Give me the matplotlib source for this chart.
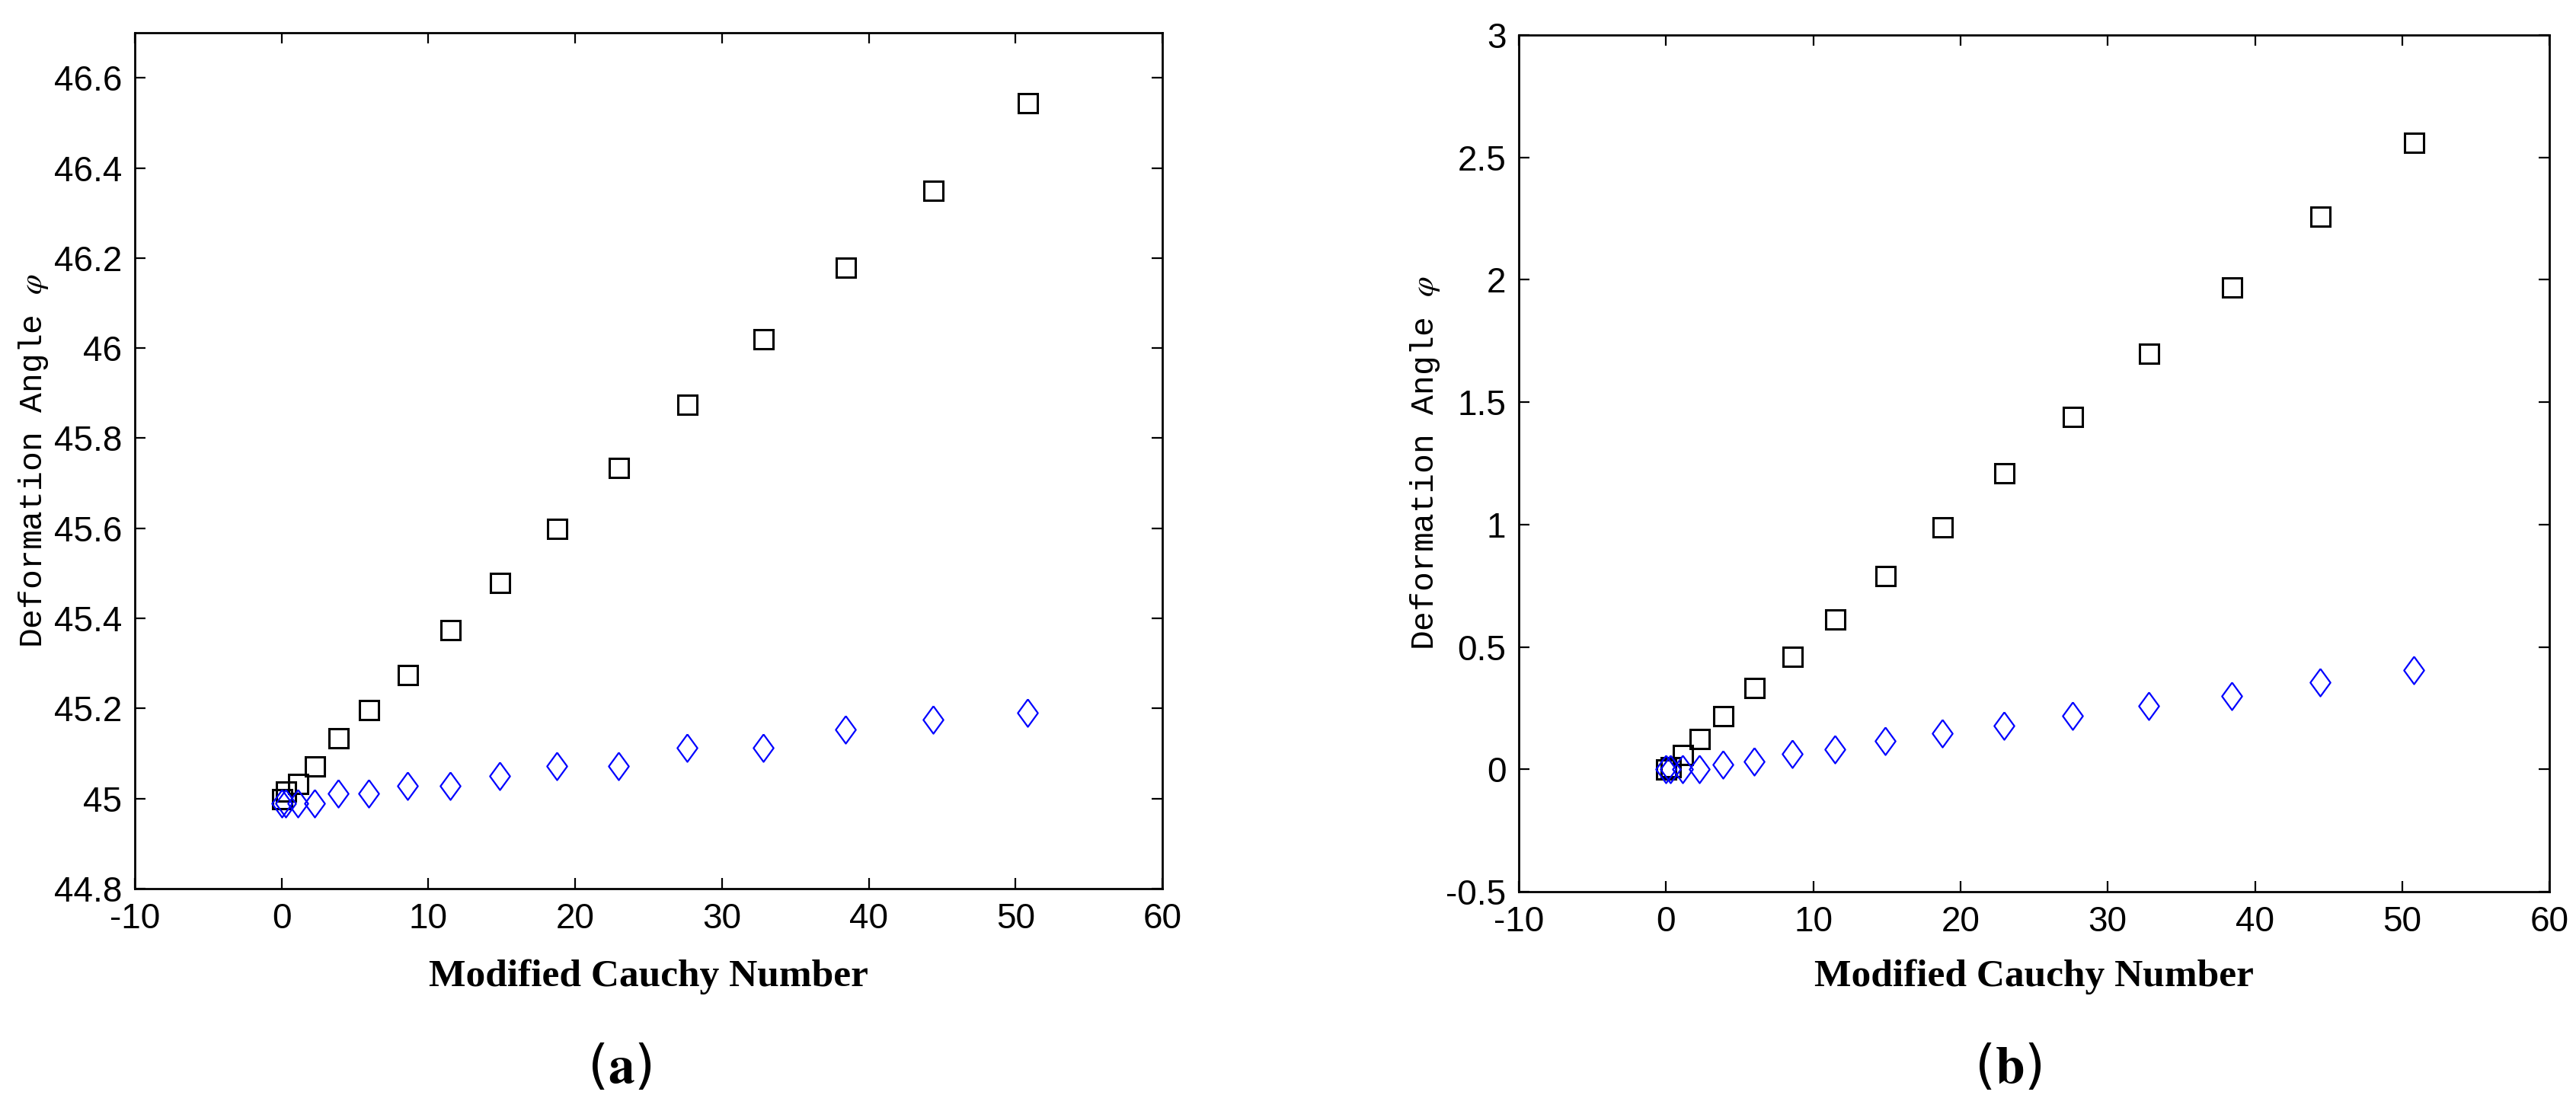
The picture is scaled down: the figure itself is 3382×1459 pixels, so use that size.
import matplotlib
matplotlib.use("Agg")
import matplotlib.pyplot as plt
from matplotlib.ticker import FormatStrFormatter

# values
cauchy = [0.0, 0.3, 1.1, 2.25, 3.88, 5.96, 8.56, 11.47, 14.88, 18.74, 22.94,
          27.63, 32.8, 38.4, 44.4, 50.8]

phi_a_square = [45.0, 45.017, 45.034, 45.073, 45.135, 45.197, 45.275, 45.375,
                45.48, 45.60, 45.735, 45.875, 46.02, 46.18, 46.35, 46.545]
phi_a_diamond = [44.99, 44.99, 44.99, 44.99, 45.011, 45.011, 45.028, 45.028,
                 45.051, 45.072, 45.072, 45.113, 45.113, 45.153, 45.175, 45.19]

phi_b_square = [0.0, 0.01, 0.06, 0.125, 0.22, 0.335, 0.46, 0.615, 0.79, 0.99,
                1.21, 1.44, 1.70, 1.97, 2.26, 2.56]
phi_b_diamond = [0.0, 0.0, 0.0, 0.0, 0.021, 0.031, 0.0625, 0.083, 0.115, 0.146,
                 0.177, 0.219, 0.26, 0.30, 0.355, 0.405]

x_ticks = [-10, 0, 10, 20, 30, 40, 50, 60]
a_yticks = [44.8, 45.0, 45.2, 45.4, 45.6, 45.8, 46.0, 46.2, 46.4, 46.6]
b_yticks = [-0.5, 0, 0.5, 1, 1.5, 2, 2.5, 3]

plt.rcParams['axes.unicode_minus'] = False
plt.rcParams['mathtext.fontset'] = 'stix'

tick_font = ['Liberation Sans Narrow', 'Liberation Sans', 'DejaVu Sans']
diamond = [(0, 1), (0.73, 0), (0, -1), (-0.73, 0), (0, 1)]

fig = plt.figure(figsize=(33.82, 14.59), dpi=100)
ax_a = fig.add_axes([0.0523, 0.2001, 0.3989, 0.7704])
ax_b = fig.add_axes([0.5896, 0.1974, 0.4001, 0.7711])


def style_axes(ax, yticks, ylim, ylab_x, xlab_y):
    ax.set_xlim(-10, 60)
    ax.set_ylim(*ylim)
    ax.set_xticks(x_ticks)
    ax.set_yticks(yticks)
    ax.yaxis.set_major_formatter(FormatStrFormatter('%g'))
    ax.tick_params(direction='in', length=10, width=1.6, top=True, right=True,
                   labelsize=33)
    ax.tick_params(axis='y', pad=12)
    ax.tick_params(axis='x', pad=13)
    for lab in ax.get_xticklabels() + ax.get_yticklabels():
        lab.set_family(tick_font)
    for sp in ax.spines.values():
        sp.set_linewidth(2.0)
    ax.set_xlabel('Modified Cauchy Number', fontsize=37, fontweight='bold',
                  family='Liberation Serif')
    ax.set_ylabel(r'Deformation Angle $\varphi$', fontsize=31,
                  family='Liberation Mono')
    ax.yaxis.set_label_coords(ylab_x, 0.5)
    ax.xaxis.set_label_coords(0.5, xlab_y)


ax_a.plot(cauchy, phi_a_square, 's', ms=18, mfc='none', mec='black', mew=2.2)
ax_a.plot(cauchy, phi_a_diamond, marker=diamond, ls='none', ms=26,
          mfc='none', mec='blue', mew=1.6)
style_axes(ax_a, a_yticks, (44.8, 46.7), -0.082, -0.082)

ax_b.plot(cauchy, phi_b_square, 's', ms=18, mfc='none', mec='black', mew=2.2)
ax_b.plot(cauchy, phi_b_diamond, marker=diamond, ls='none', ms=26,
          mfc='none', mec='blue', mew=1.6)
style_axes(ax_b, b_yticks, (-0.5, 3), -0.075, -0.079)

fig.text(0.2404, 0.039, r'($\mathbf{a}$)', fontsize=50, ha='center', va='center')
fig.text(0.7794, 0.039, r'($\mathbf{b}$)', fontsize=50, ha='center', va='center')

fig.savefig('out.png', dpi=100)
